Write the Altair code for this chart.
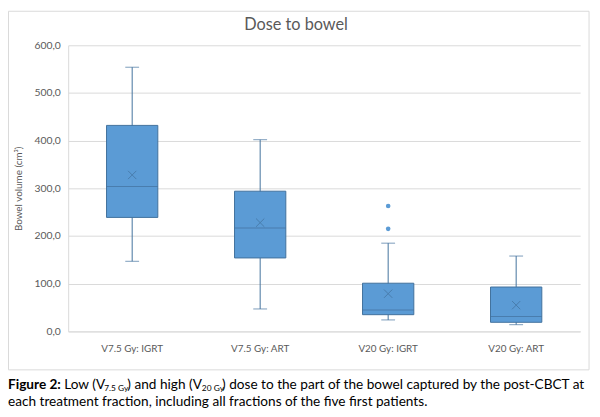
import pandas as pd
import altair as alt

FONT = "Lato"
GREY = "#595959"
GRID = "#D9D9D9"
FILL = "#5B9BD5"
EDGE = "#41719C"

# box plot summaries (cm3)
groups = ["V7.5 Gy: IGRT", "V7.5 Gy: ART", "V20 Gy: IGRT", "V20 Gy: ART"]
whisker_low = [147, 47, 24, 14]
q1 = [239, 154, 35, 19]
median = [304, 217, 45, 31]
q3 = [432, 294, 101, 93]
whisker_high = [554, 402, 185, 158]
mean = [328, 228, 79, 55]

outlier_group = ["V20 Gy: IGRT", "V20 Gy: IGRT"]
outlier_value = [263, 215]

y_ticks = [0, 100, 200, 300, 400, 500, 600]

stats = pd.DataFrame({
    "group": groups,
    "low": whisker_low,
    "q1": q1,
    "median": median,
    "q3": q3,
    "high": whisker_high,
    "mean": mean,
})
outliers = pd.DataFrame({"group": outlier_group, "value": outlier_value})
one_row = pd.DataFrame({"k": [0]})

x_enc = alt.X(
    "group:N",
    sort=groups,
    title=None,
    scale=alt.Scale(paddingInner=0, paddingOuter=0),
    axis=alt.Axis(
        labelAngle=0, ticks=False, labelPadding=12, labelFontSize=10,
        labelColor=GREY, labelFont=FONT, domainColor=GRID,
    ),
)
y_scale = alt.Scale(domain=[0, 600])
y_axis = alt.Axis(
    values=y_ticks, ticks=False, labelPadding=8,
    labelExpr="replace(format(datum.value, '.1f'), '.', ',')",
    labelFontSize=10.5, labelColor=GREY, labelFont=FONT,
    gridColor=GRID, domainColor=GRID,
    titleFontSize=10, titleFont=FONT, titleColor=GREY,
    titleFontWeight="normal", titlePadding=11,
)


def yq(field):
    return alt.Y(field + ":Q", scale=y_scale, axis=y_axis,
                 title="Bowel volume (cm³)")


base = alt.Chart(stats).encode(x=x_enc)

whiskers = base.mark_rule(color=EDGE, strokeWidth=1).encode(
    y=yq("low"), y2="high:Q"
)
cap_low = base.mark_tick(color=EDGE, size=14, thickness=1).encode(y=yq("low"))
cap_high = base.mark_tick(color=EDGE, size=14, thickness=1).encode(y=yq("high"))
box = base.mark_bar(size=52, color=FILL, stroke=EDGE, strokeWidth=1).encode(
    y=yq("q1"), y2="q3:Q"
)
med = base.mark_tick(color=EDGE, size=52, thickness=1).encode(y=yq("median"))
avg = base.mark_point(
    shape="M-1,-1L1,1M-1,1L1,-1", size=70, filled=False,
    color=EDGE, strokeWidth=1,
).encode(y=yq("mean"))
dots = alt.Chart(outliers).mark_circle(size=22, color=FILL, opacity=1).encode(
    x=x_enc, y=yq("value")
)


def label(text, x, y, size=13.8, weight="normal", color="black", align="left"):
    return alt.Chart(one_row).mark_text(
        align=align, baseline="alphabetic", font=FONT,
        fontSize=size, fontWeight=weight, color=color,
    ).encode(x=alt.value(x), y=alt.value(y), text=alt.value(text))


frame = alt.Chart(one_row).mark_rect(
    filled=False, stroke=GRID, strokeWidth=1
).encode(
    x=alt.value(-60.5), x2=alt.value(528), y=alt.value(-34.5), y2=alt.value(329)
)

title = label("Dose to bowel", 231, -16, size=16.5, color=GREY, align="center")

caption = [
    label("Figure 2:", -61, 348, weight="bold"),
    label("Low (V", -4, 348),
    label("7.5 Gy", 36.5, 350, size=8.5),
    label(") and high (V", 60, 348),
    label("20 Gy", 135.5, 350, size=8.5),
    label(") dose to the part of the bowel captured by the post-CBCT at", 156, 348),
    label("each treatment fraction, including all fractions of the five first patients.", -61, 366),
]

chart = alt.layer(
    frame, whiskers, cap_low, cap_high, box, med, avg, dots, title, *caption
).properties(
    width=519,
    height=290,
    autosize=alt.AutoSizeParams(type="none"),
    padding={"left": 61, "top": 35, "right": 12, "bottom": 84},
).configure_view(strokeWidth=0)

chart.save("out.html", embed_options={"renderer": "svg", "actions": False})
